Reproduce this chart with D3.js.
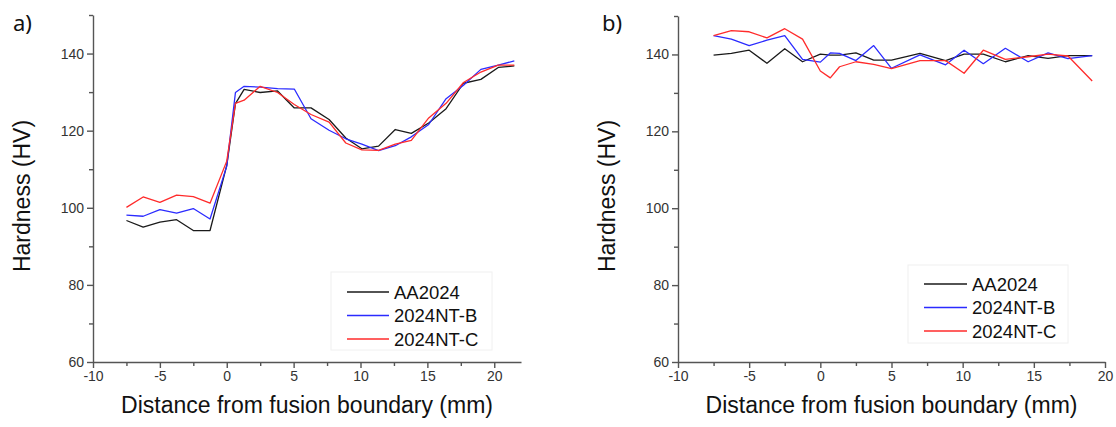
<!DOCTYPE html>
<html>
<head>
<meta charset="utf-8">
<script src="https://cdn.jsdelivr.net/npm/d3@7"></script>
<style>
  html, body { margin: 0; padding: 0; background: #fff; }
  svg { display: block; }
  .tick text { font-family: "Liberation Sans", Arial, sans-serif; font-size: 14px; fill: #333; }
</style>
</head>
<body>
<svg id="chart" width="1116" height="427"></svg>
<script>
// Microhardness profiles across the weld fusion boundary
const seriesNames = ["AA2024", "2024NT-B", "2024NT-C"];
const seriesColors = ["#1a1a1a", "#2b2bff", "#ff2b2b"];

// Panel a) distance (mm) and hardness (HV)
const distA = [-7.5, -6.25, -5, -3.75, -2.5, -1.25, 0, 0.65, 1.3, 2.5, 3.8, 5.05, 6.3, 7.65, 8.9, 10.1, 11.35, 12.6, 13.8, 15.1, 16.4, 17.7, 19, 20.3, 21.5];
const aa2024A = [96.7, 95.0, 96.3, 96.9, 94.1, 94.1, 111.0, 127.0, 130.7, 129.9, 130.3, 125.9, 125.9, 122.9, 118.1, 115.3, 116.0, 120.3, 119.3, 122.0, 125.7, 132.3, 133.3, 136.4, 136.8];
const ntBA = [98.1, 97.8, 99.5, 98.6, 99.8, 97.1, 110.8, 129.9, 131.5, 131.3, 130.9, 130.8, 123.1, 120.1, 117.9, 116.5, 114.8, 116.1, 118.4, 121.6, 128.3, 131.8, 135.9, 137.0, 138.1];
const ntCA = [100.1, 102.8, 101.4, 103.3, 102.9, 101.2, 112.1, 127.1, 127.9, 131.5, 129.9, 126.8, 124.2, 122.2, 116.8, 115.0, 114.9, 116.5, 117.5, 123.3, 127.1, 132.5, 135.2, 137.0, 137.0];

// Panel b) distance (mm) and hardness (HV)
const distB = [-7.5, -6.25, -5, -3.75, -2.5, -1.25, 0, 0.7, 1.35, 2.5, 3.75, 5, 7, 8.8, 10.1, 11.45, 13, 14.6, 16, 17.4, 19.1];
const aa2024B = [139.8, 140.3, 141.1, 137.7, 141.5, 138.1, 140.1, 139.8, 139.8, 140.4, 138.5, 138.5, 140.3, 138.4, 140.1, 140.1, 138.1, 139.7, 139.0, 139.7, 139.7];
const ntBB = [144.9, 144.0, 142.3, 143.7, 144.9, 138.7, 138.0, 140.4, 140.3, 138.4, 142.3, 136.4, 139.9, 137.3, 141.1, 137.6, 141.6, 138.1, 140.4, 138.9, 139.7];
const ntCB = [144.9, 146.2, 145.9, 144.3, 146.7, 144.0, 135.7, 133.9, 136.8, 138.1, 137.4, 136.3, 138.4, 138.4, 135.1, 141.1, 138.7, 139.4, 140.1, 139.6, 133.1];

// Axis ticks
const xMajorTicks = [-10, -5, 0, 5, 10, 15, 20];
const xMinorTicks = [-7.5, -2.5, 2.5, 7.5, 12.5, 17.5];
const yMajorTicks = [60, 80, 100, 120, 140];
const yMinorTicks = [70, 90, 110, 130, 150];

const xTitle = "Distance from fusion boundary (mm)";
const yTitle = "Hardness (HV)";

const panels = [
  { label: "a)", x: distA, series: [aa2024A, ntBA, ntCA], xDomain: [-10, 22],
    left: 93, right: 521, top: 15, bottom: 362, labelPos: [13, 31],
    legend: { x: 331, y: 272, w: 161, h: 78, lineX0: 347, lineX1: 389, textX: 394, rowY: [292, 315.5, 339] } },
  { label: "b)", x: distB, series: [aa2024B, ntBB, ntCB], xDomain: [-10, 20],
    left: 678, right: 1105, top: 16, bottom: 362, labelPos: [602, 31],
    legend: { x: 908, y: 265, w: 160, h: 78, lineX0: 924, lineX1: 967, textX: 972, rowY: [284, 307.5, 331] } }
];

const svg = d3.select("#chart");
const axisColor = "#555";
const plainNumber = d => String(d);   // ASCII hyphen for negatives

panels.forEach(p => {
  const g = svg.append("g");
  const x = d3.scaleLinear().domain(p.xDomain).range([p.left, p.right]);
  const y = d3.scaleLinear().domain([60, 150]).range([p.bottom, p.top]);

  // minor ticks
  g.append("g").attr("transform", `translate(0,${p.bottom})`)
    .call(d3.axisBottom(x).tickValues(xMinorTicks.filter(v => v <= p.xDomain[1])).tickSize(4).tickFormat(""))
    .call(s => s.select(".domain").remove());
  g.append("g").attr("transform", `translate(${p.left},0)`)
    .call(d3.axisLeft(y).tickValues(yMinorTicks).tickSize(4).tickFormat(""))
    .call(s => s.select(".domain").remove());

  // major axes
  g.append("g").attr("transform", `translate(0,${p.bottom})`)
    .call(d3.axisBottom(x).tickValues(xMajorTicks).tickFormat(plainNumber).tickSize(6).tickSizeOuter(0).tickPadding(3));
  g.append("g").attr("transform", `translate(${p.left},0)`)
    .call(d3.axisLeft(y).tickValues(yMajorTicks).tickFormat(plainNumber).tickSize(6).tickSizeOuter(0).tickPadding(3));

  g.selectAll(".domain, .tick line").attr("stroke", axisColor).attr("stroke-width", 1.4);

  // axis titles
  g.append("text")
    .attr("x", (p.left + p.right) / 2).attr("y", 413)
    .attr("text-anchor", "middle")
    .style("font-family", "'Liberation Sans', Arial, sans-serif").style("font-size", "23px").style("fill", "#111")
    .text(xTitle);
  g.append("text")
    .attr("transform", `translate(${p.left - 63},196) rotate(-90)`)
    .attr("text-anchor", "middle")
    .style("font-family", "'Liberation Sans', Arial, sans-serif").style("font-size", "23px").style("fill", "#111")
    .text(yTitle);

  // panel label
  g.append("text")
    .attr("x", p.labelPos[0]).attr("y", p.labelPos[1])
    .style("font-family", "'Noto Sans', 'Open Sans', sans-serif").style("font-size", "22px").style("fill", "#111")
    .text(p.label);

  // hardness profiles
  const line = d3.line().x((d, i) => x(p.x[i])).y(d => y(d));
  p.series.forEach((vals, k) => {
    g.append("path").datum(vals)
      .attr("d", line)
      .attr("fill", "none")
      .attr("stroke", seriesColors[k])
      .attr("stroke-width", 1.3)
      .attr("stroke-linejoin", "round");
  });

  // legend
  const L = p.legend;
  g.append("rect").attr("x", L.x).attr("y", L.y).attr("width", L.w).attr("height", L.h)
    .attr("fill", "#fff").attr("stroke", "#f0f0f0").attr("stroke-width", 1);
  seriesNames.forEach((name, k) => {
    g.append("line").attr("x1", L.lineX0).attr("x2", L.lineX1)
      .attr("y1", L.rowY[k]).attr("y2", L.rowY[k])
      .attr("stroke", seriesColors[k]).attr("stroke-width", 1.3);
    g.append("text").attr("x", L.textX).attr("y", L.rowY[k]).attr("dy", "0.36em")
      .style("font-family", "'Liberation Sans', Arial, sans-serif").style("font-size", "18.5px").style("fill", "#111")
      .text(name);
  });
});
</script>
</body>
</html>
